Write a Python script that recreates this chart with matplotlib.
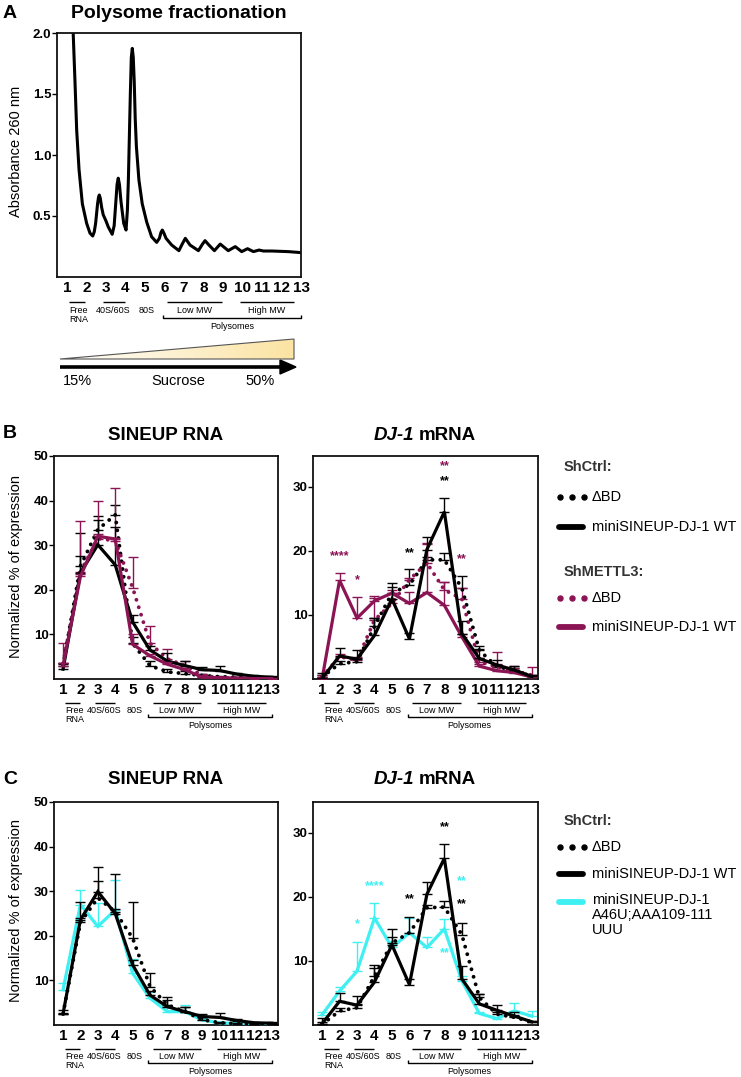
import numpy as np
import matplotlib
matplotlib.use("Agg")
import matplotlib.pyplot as plt
import matplotlib.transforms as mtransforms
from matplotlib.patches import Polygon
from matplotlib.colors import LinearSegmentedColormap

plt.rcParams['font.family'] = ['Liberation Sans', 'DejaVu Sans']

# ---------------- data ----------------
fractions = [1, 2, 3, 4, 5, 6, 7, 8, 9, 10, 11, 12, 13]
fraction_labels = [str(f) for f in fractions]

# Panel A: absorbance trace (fraction position, A260)
trace_fraction = [1.25, 1.32, 1.41, 1.50, 1.62, 1.79, 2.01, 2.18, 2.32, 2.40, 2.47, 2.57, 2.62, 2.66,
                  2.71, 2.78, 2.86, 3.00, 3.12, 3.32, 3.42, 3.50, 3.57, 3.63, 3.69, 3.77, 3.91, 4.03, 4.10,
                  4.15, 4.20, 4.25, 4.30, 4.35, 4.40, 4.45, 4.50, 4.56, 4.69, 4.86, 5.09, 5.34,
                  5.60, 5.74, 5.82, 5.89, 5.97, 6.08, 6.37, 6.74, 6.93, 7.07, 7.31, 7.74, 7.95, 8.08, 8.28,
                  8.56, 8.86, 9.27, 9.63, 9.96, 10.26, 10.56, 10.85, 11.07, 11.5, 12.35, 13.0]
trace_abs = [2.60, 2.00, 1.61, 1.20, 0.88, 0.60, 0.44, 0.36, 0.336, 0.37, 0.44, 0.60, 0.655, 0.672,
             0.645, 0.57, 0.51, 0.46, 0.41, 0.35, 0.42, 0.60, 0.76, 0.81, 0.76, 0.62, 0.44, 0.385, 0.55,
             0.80, 1.15, 1.50, 1.80, 1.874, 1.80, 1.60, 1.30, 1.07, 0.795, 0.60, 0.45, 0.33,
             0.284, 0.317, 0.365, 0.385, 0.36, 0.317, 0.262, 0.216, 0.276, 0.317, 0.262, 0.216, 0.27, 0.298, 0.262,
             0.216, 0.27, 0.216, 0.249, 0.208, 0.232, 0.208, 0.221, 0.213, 0.213, 0.208, 0.20]

# Panel B, SINEUP RNA
bL_ctrl_dbd = [3.0, 25.3, 33.5, 36.8, 8.0, 3.0, 1.6, 1.2, 0.8, 0.5, 0.4, 0.3, 0.2]
bL_ctrl_dbd_err = [0.3, 7.5, 3.1, 2.2, 1.5, 1.0, 0.6, 0.5, 0.3, 0.2, 0.1, 0.1, 0.1]
bL_ctrl_wt = [2.2, 23.8, 30.1, 25.6, 12.8, 6.5, 4.0, 3.0, 2.1, 1.9, 1.1, 0.6, 0.4]
bL_ctrl_wt_err = [1.3, 3.7, 5.6, 8.4, 1.6, 1.0, 1.9, 1.1, 0.6, 1.1, 0.3, 0.2, 0.2]
bL_mettl3_dbd = [3.5, 24.0, 31.5, 31.0, 20.5, 8.0, 4.5, 3.0, 0.8, 0.3, 0.2, 0.2, 0.1]
bL_mettl3_dbd_err = [4.5, 11.5, 8.5, 11.8, 6.9, 3.9, 2.2, 1.1, 0.3, 0.2, 0.1, 0.1, 0.1]
bL_mettl3_wt = [3.0, 23.0, 32.0, 31.4, 7.8, 5.2, 3.3, 2.1, 0.4, 0.3, 0.2, 0.1, 0.1]
bL_mettl3_wt_err = [0.5, 0.5, 0.4, 0.3, 2.4, 0.5, 0.4, 0.3, 0.1, 0.1, 0.1, 0.1, 0.1]

# Panel B, DJ-1 mRNA
bR_ctrl_dbd = [0.3, 2.4, 2.7, 8.2, 13.4, 14.7, 18.6, 18.6, 14.2, 4.5, 1.9, 1.4, 0.4]
bR_ctrl_dbd_err = [0.3, 0.4, 0.5, 1.3, 1.0, 2.5, 0.5, 1.0, 1.8, 0.6, 0.3, 0.3, 0.2]
bR_ctrl_wt = [0.1, 3.6, 3.1, 6.8, 12.5, 6.25, 20.2, 26.1, 7.1, 3.2, 2.2, 1.4, 0.4]
bR_ctrl_wt_err = [0.9, 1.3, 1.5, 2.7, 2.5, 0.9, 1.9, 2.2, 2.0, 1.5, 0.8, 0.7, 0.2]
bR_mettl3_dbd = [0.3, 3.5, 2.9, 9.2, 11.8, 15.5, 18.1, 13.9, 12.5, 2.7, 1.9, 1.3, 0.6]
bR_mettl3_dbd_err = [0.3, 0.4, 0.6, 3.5, 1.5, 0.3, 3.0, 1.3, 1.7, 0.5, 0.5, 0.4, 1.3]
bR_mettl3_wt = [0.0, 15.4, 9.5, 12.2, 13.4, 11.8, 13.5, 11.5, 6.6, 2.0, 1.3, 1.0, 0.3]
bR_mettl3_wt_err = [0.2, 1.2, 3.3, 0.8, 0.5, 1.7, 7.8, 3.7, 0.5, 0.3, 2.9, 1.0, 0.2]
bR_star_x = [2, 3, 6, 8, 8, 9]
bR_star_y = [19.1, 15.5, 19.6, 33.2, 30.8, 18.7]
bR_star_text = ['****', '*', '**', '**', '**', '**']
bR_star_group = ['mettl3', 'mettl3', 'ctrl', 'mettl3', 'ctrl', 'mettl3']

# Panel C, SINEUP RNA
cL_ctrl_dbd = [2.5, 23.0, 28.5, 25.4, 19.5, 8.6, 4.5, 3.0, 1.2, 0.5, 0.3, 0.2, 0.2]
cL_ctrl_dbd_err = [0.3, 1.0, 3.8, 0.5, 8.0, 3.0, 1.8, 1.0, 0.5, 0.2, 0.1, 0.1, 0.1]
cL_ctrl_wt = [2.5, 23.6, 29.9, 25.0, 13.5, 6.7, 4.1, 3.0, 1.9, 1.7, 1.0, 0.5, 0.4]
cL_ctrl_wt_err = [0.9, 3.9, 5.6, 8.9, 1.0, 1.0, 1.5, 1.0, 0.6, 1.1, 0.3, 0.2, 0.2]
cL_mut = [7.9, 27.0, 22.1, 25.8, 11.6, 6.0, 3.0, 3.0, 1.1, 0.5, 0.3, 0.2, 0.2]
cL_mut_err = [1.6, 3.3, 5.2, 6.6, 3.2, 1.5, 1.0, 1.5, 0.5, 0.2, 0.1, 0.1, 0.1]

# Panel C, DJ-1 mRNA
cR_ctrl_dbd = [0.1, 2.2, 2.7, 7.6, 12.8, 14.4, 18.3, 18.4, 14.1, 4.3, 1.7, 1.2, 0.5]
cR_ctrl_dbd_err = [0.3, 0.4, 0.5, 1.3, 1.0, 2.5, 0.5, 1.0, 1.8, 0.6, 0.3, 0.3, 0.2]
cR_ctrl_wt = [0.2, 3.7, 3.1, 6.7, 12.5, 6.3, 20.4, 26.0, 7.2, 3.3, 2.3, 1.4, 0.5]
cR_ctrl_wt_err = [0.9, 1.3, 1.5, 2.7, 2.5, 0.9, 1.9, 2.2, 2.0, 1.5, 0.8, 0.7, 0.2]
cR_mut = [1.6, 5.3, 8.4, 16.7, 12.1, 14.4, 12.1, 15.0, 6.9, 1.8, 1.0, 2.2, 1.4]
cR_mut_err = [0.4, 0.7, 4.6, 2.4, 1.0, 2.3, 1.6, 1.5, 0.8, 0.3, 0.3, 1.3, 0.8]
cR_star_x = [3, 4, 6, 8, 9, 9, 8]
cR_star_y = [15.7, 21.7, 19.7, 30.8, 22.4, 18.8, 11.2]
cR_star_text = ['*', '****', '**', '**', '**', '**', '**']
cR_star_group = ['mut', 'mut', 'ctrl', 'ctrl', 'mut', 'ctrl', 'mut']

# ---------------- style ----------------
BLACK = '#000000'
MAROON = '#8b1454'
CYAN = '#3ff0f2'
group_color = {'ctrl': BLACK, 'mettl3': MAROON, 'mut': CYAN}

W, H = 741, 1077
DPI = 100
fig = plt.figure(figsize=(W / DPI, H / DPI), dpi=DPI)


def add_ax(l, t, r, b):
    return fig.add_axes([l / W, 1 - b / H, (r - l) / W, (b - t) / H])


def style_axes(ax, ylim, yticks, yticklabels, xlim):
    ax.set_xlim(*xlim)
    ax.set_ylim(*ylim)
    ax.set_xticks(fractions)
    ax.set_xticklabels(fraction_labels, fontsize=11, fontweight='bold')
    ax.set_yticks(yticks)
    ax.set_yticklabels(yticklabels, fontsize=9.5, fontweight='bold')
    ax.tick_params(axis='x', length=0, pad=3)
    ax.tick_params(axis='y', length=3.5, width=1.0, pad=0.5, direction='out')
    for s in ax.spines.values():
        s.set_linewidth(1.3)
        s.set_color('#111111')


def fraction_annotations(ax, h, line_px=24, text_px=27, br_px=38, poly_px=42):
    T = mtransforms.blended_transform_factory(ax.transData, ax.transAxes)
    yf = lambda px: -px / h
    kw = dict(color='k', lw=1.0, clip_on=False, transform=T, solid_capstyle='butt')
    for x0, x1 in [(1.1, 1.95), (2.85, 4.0), (6.15, 8.95), (9.85, 12.65)]:
        ax.plot([x0, x1], [yf(line_px)] * 2, **kw)
    tk = dict(transform=T, fontsize=6.5, va='top', clip_on=False)
    ax.text(1.1, yf(text_px), 'Free\nRNA', ha='left', linespacing=1.05, **tk)
    ax.text(3.35, yf(text_px), '40S/60S', ha='center', **tk)
    ax.text(5.1, yf(text_px), '80S', ha='center', **tk)
    ax.text(7.55, yf(text_px), 'Low MW', ha='center', **tk)
    ax.text(11.25, yf(text_px), 'High MW', ha='center', **tk)
    ax.plot([5.9, 5.9, 13.0, 13.0], [yf(br_px - 3), yf(br_px), yf(br_px), yf(br_px - 3)], **kw)
    ax.text(9.45, yf(poly_px), 'Polysomes', ha='center', **tk)


def series(ax, y, err, color, dotted=False, z=2):
    if dotted:
        ax.plot(fractions, y, color=color, lw=2.8, linestyle=(0, (0.01, 2.0)),
                dash_capstyle='round', zorder=z)
    else:
        ax.plot(fractions, y, color=color, lw=2.3, zorder=z, solid_joinstyle='miter')
    ax.errorbar(fractions, y, yerr=[np.zeros(len(err)), err], fmt='none', ecolor=color,
                elinewidth=1.0, capsize=3.4, capthick=1.0, zorder=z - 0.5)


def stars(ax, xs, ys, texts, groups):
    for x, y, t, g in zip(xs, ys, texts, groups):
        ax.text(x, y, t, color=group_color[g], ha='center', va='center',
                fontsize=9, fontweight='bold', zorder=6)


# ---------------- Panel A ----------------
axA = add_ax(57, 33, 301, 277)
axA.plot(trace_fraction, trace_abs, color='k', lw=2.2, solid_joinstyle='round')
style_axes(axA, (0, 2.0), [0.5, 1.0, 1.5, 2.0], ['0.5', '1.0', '1.5', '2.0'], (0.49, 13.0))
fraction_annotations(axA, 244, line_px=25, text_px=29, br_px=41, poly_px=45)

# ---------------- Panel B ----------------
XL = (0.48, 13.36)
axBL = add_ax(54, 456, 278, 679)
series(axBL, bL_ctrl_dbd, bL_ctrl_dbd_err, BLACK, dotted=True, z=3)
series(axBL, bL_mettl3_dbd, bL_mettl3_dbd_err, MAROON, dotted=True, z=3)
series(axBL, bL_ctrl_wt, bL_ctrl_wt_err, BLACK, z=4)
series(axBL, bL_mettl3_wt, bL_mettl3_wt_err, MAROON, z=5)
style_axes(axBL, (0, 50), [10, 20, 30, 40, 50], ['10', '20', '30', '40', '50'], XL)
fraction_annotations(axBL, 223)

axBR = add_ax(313, 456, 538, 679)
series(axBR, bR_ctrl_dbd, bR_ctrl_dbd_err, BLACK, dotted=True, z=3)
series(axBR, bR_mettl3_dbd, bR_mettl3_dbd_err, MAROON, dotted=True, z=3)
series(axBR, bR_mettl3_wt, bR_mettl3_wt_err, MAROON, z=4)
series(axBR, bR_ctrl_wt, bR_ctrl_wt_err, BLACK, z=5)
stars(axBR, bR_star_x, bR_star_y, bR_star_text, bR_star_group)
style_axes(axBR, (0, 34.8), [10, 20, 30], ['10', '20', '30'], XL)
fraction_annotations(axBR, 223)

# ---------------- Panel C ----------------
axCL = add_ax(54, 802, 278, 1025)
series(axCL, cL_mut, cL_mut_err, CYAN, z=3)
series(axCL, cL_ctrl_dbd, cL_ctrl_dbd_err, BLACK, dotted=True, z=4)
series(axCL, cL_ctrl_wt, cL_ctrl_wt_err, BLACK, z=5)
style_axes(axCL, (0, 50), [10, 20, 30, 40, 50], ['10', '20', '30', '40', '50'], XL)
fraction_annotations(axCL, 223)

axCR = add_ax(313, 802, 538, 1025)
series(axCR, cR_mut, cR_mut_err, CYAN, z=3)
series(axCR, cR_ctrl_dbd, cR_ctrl_dbd_err, BLACK, dotted=True, z=4)
series(axCR, cR_ctrl_wt, cR_ctrl_wt_err, BLACK, z=5)
stars(axCR, cR_star_x, cR_star_y, cR_star_text, cR_star_group)
style_axes(axCR, (0, 34.8), [10, 20, 30], ['10', '20', '30'], XL)
fraction_annotations(axCR, 223)

# ---------------- overlay (pixel coordinates) ----------------
ov = fig.add_axes([0, 0, 1, 1], facecolor='none')
ov.set_xlim(0, W)
ov.set_ylim(H, 0)
ov.axis('off')

for letter, y in [('A', 14), ('B', 434), ('C', 779)]:
    ov.text(3, y, letter, fontsize=14, fontweight='bold', ha='left', va='center')
ov.text(179, 14, 'Polysome fractionation', fontsize=14, fontweight='bold', ha='center', va='center')
for y in (436, 780):
    ov.text(166, y, 'SINEUP RNA', fontsize=13.5, fontweight='bold', ha='center', va='center')
    ov.text(414, y, 'DJ-1', fontsize=13.5, fontweight='bold', style='italic', ha='right', va='center')
    ov.text(419, y, 'mRNA', fontsize=13.5, fontweight='bold', ha='left', va='center')

ov.text(16, 151, 'Absorbance 260 nm', rotation=90, fontsize=10.5, ha='center', va='center')
for y in (567, 910):
    ov.text(16, y, 'Normalized % of expression', rotation=90, fontsize=10.5, ha='center', va='center')

# sucrose gradient
grad = np.linspace(0, 1, 256).reshape(1, -1)
cmap = LinearSegmentedColormap.from_list('suc', ['#ffffff', '#fbe3a2'])
tri = Polygon([(60, 359), (294, 339), (294, 359)], closed=True, facecolor='none',
              edgecolor='#555555', lw=0.8, zorder=3)
ov.add_patch(tri)
im = ov.imshow(grad, cmap=cmap, extent=(60, 294, 359, 339), aspect='auto', zorder=2)
im.set_clip_path(tri)
ov.set_xlim(0, W)
ov.set_ylim(H, 0)
ov.plot([60, 283], [367, 367], color='k', lw=2.6, solid_capstyle='butt')
ov.add_patch(Polygon([(280, 360), (296, 367), (280, 374)], closed=True, facecolor='k', edgecolor='k'))
ov.text(77, 381, '15%', fontsize=10.5, ha='center', va='center')
ov.text(178, 381, 'Sucrose', fontsize=10.5, ha='center', va='center')
ov.text(260, 381, '50%', fontsize=10.5, ha='center', va='center')


def legend_line(y, color, dotted=False):
    if dotted:
        ov.plot([560, 572, 584], [y, y, y], linestyle='none', marker='o', ms=3.6, color=color)
    else:
        ov.plot([559, 583], [y, y], color=color, lw=4.2, solid_capstyle='round')


def legend_head(y, text):
    ov.text(564, y, text, fontsize=10.5, fontweight='bold', color='#333333', ha='left', va='center')


def legend_text(y, text):
    ov.text(592, y, text, fontsize=10.5, ha='left', va='center', linespacing=1.05)


legend_head(467, 'ShCtrl:')
legend_line(497, BLACK, True)
legend_text(497, 'ΔBD')
legend_line(527, BLACK)
legend_text(527, 'miniSINEUP-DJ-1 WT')
legend_head(572, 'ShMETTL3:')
legend_line(598, MAROON, True)
legend_text(598, 'ΔBD')
legend_line(627, MAROON)
legend_text(627, 'miniSINEUP-DJ-1 WT')

legend_head(821, 'ShCtrl:')
legend_line(847, BLACK, True)
legend_text(847, 'ΔBD')
legend_line(874, BLACK)
legend_text(874, 'miniSINEUP-DJ-1 WT')
legend_line(902, CYAN)
ov.text(592, 893, 'miniSINEUP-DJ-1\nA46U;AAA109-111\nUUU', fontsize=10.5, ha='left', va='top',
        linespacing=1.08)

fig.savefig('out.png', dpi=DPI)
